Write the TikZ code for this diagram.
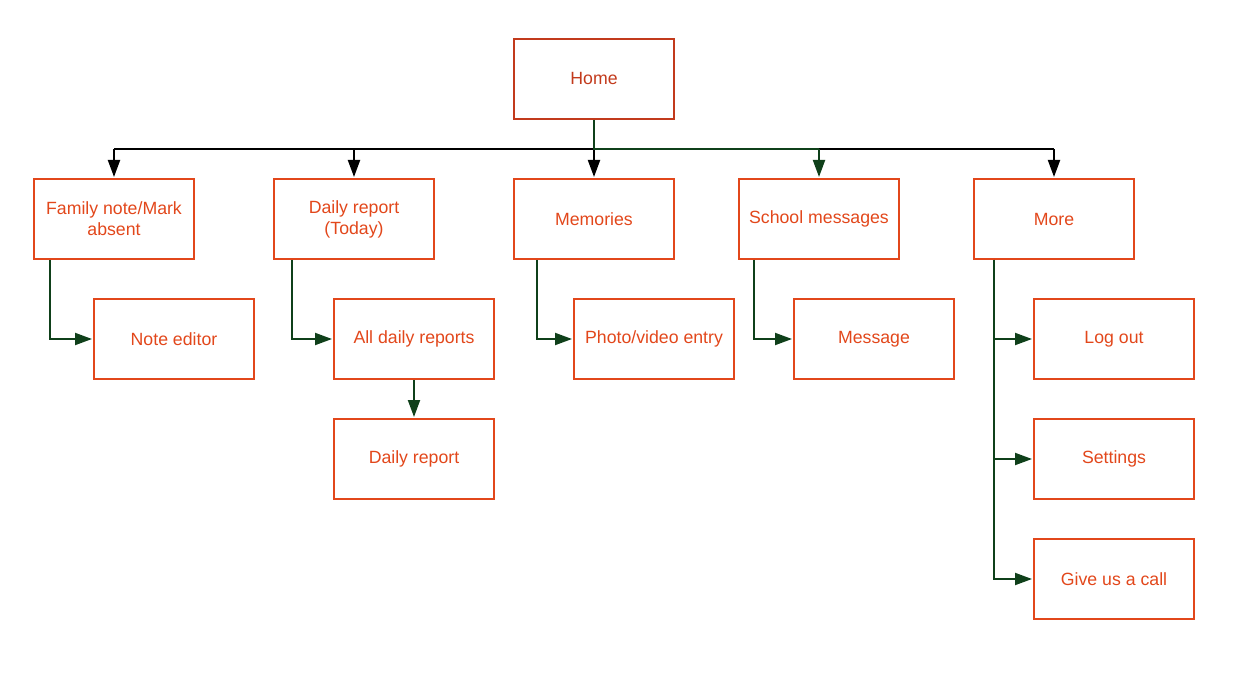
\documentclass[tikz,border=0pt]{standalone}
\usepackage{fontspec}
\setmainfont{Liberation Sans}
\usetikzlibrary{arrows.meta}
\definecolor{homered}{HTML}{C23A1C}
\definecolor{boxred}{HTML}{E2471B}
\definecolor{dkgreen}{HTML}{0F401A}
\tikzset{
  box/.style={draw=boxred, text=boxred, line width=2pt, rectangle, minimum width=160pt, minimum height=80pt, inner sep=2pt, align=center, font=\fontsize{17.7pt}{21pt}\selectfont},
  homebox/.style={box, draw=homered, text=homered},
  blk/.style={draw=black, line width=2pt},
  grn/.style={draw=dkgreen, line width=2pt},
  tip/.style={-{Triangle[length=17pt,width=12pt]}, shorten >=1pt},
}
\begin{document}
\begin{tikzpicture}[x=1pt,y=-1pt]
\useasboundingbox (0,0) rectangle (1236,676);
\node[homebox] (home) at (594,79) {Home};
\node[box] (fam) at (114,219) {Family note/Mark\\absent};
\node[box] (dtoday) at (354,219) {Daily report\\(Today)};
\node[box] (mem) at (594,219) {Memories};
\node[box] (school) at (819,219) {School messages};
\node[box] (more) at (1054,219) {More};
\node[box] (note) at (174,339) {Note editor};
\node[box] (all) at (414,339) {All daily reports};
\node[box] (photo) at (654,339) {Photo/video entry};
\node[box] (msg) at (874,339) {Message};
\node[box] (logout) at (1114,339) {Log out};
\node[box] (daily) at (414,459) {Daily report};
\node[box] (settings) at (1114,459) {Settings};
\node[box] (call) at (1114,579) {Give us a call};
\coordinate (busL) at (114,149);
\coordinate (busR) at (1054,149);
% black bus
\draw[blk] (busL) -- (busR);
\draw[blk,tip] (fam.north |- busL) -- (fam.north);
\draw[blk,tip] (dtoday.north |- busL) -- (dtoday.north);
\draw[blk,tip] (mem.north |- busL) -- (mem.north);
\draw[blk,tip] (more.north |- busL) -- (more.north);
% green from home
\draw[grn] (home.south) -- (home.south |- busL) -- (school.north |- busL);
\draw[grn,tip] (school.north |- busL) -- (school.north);
% elbows
\draw[grn,tip] ([xshift=-64pt]fam.south) |- (note.west);
\draw[grn,tip] ([xshift=-62pt]dtoday.south) |- (all.west);
\draw[grn,tip] ([xshift=-57pt]mem.south) |- (photo.west);
\draw[grn,tip] ([xshift=-65pt]school.south) |- (msg.west);
\draw[grn,tip] ([xshift=-60pt]more.south) |- (logout.west);
\draw[grn,tip] ([xshift=-60pt]more.south) |- (settings.west);
\draw[grn,tip] ([xshift=-60pt]more.south) |- (call.west);
\draw[grn,tip] (all.south) -- (daily.north);
\end{tikzpicture}
\end{document}
